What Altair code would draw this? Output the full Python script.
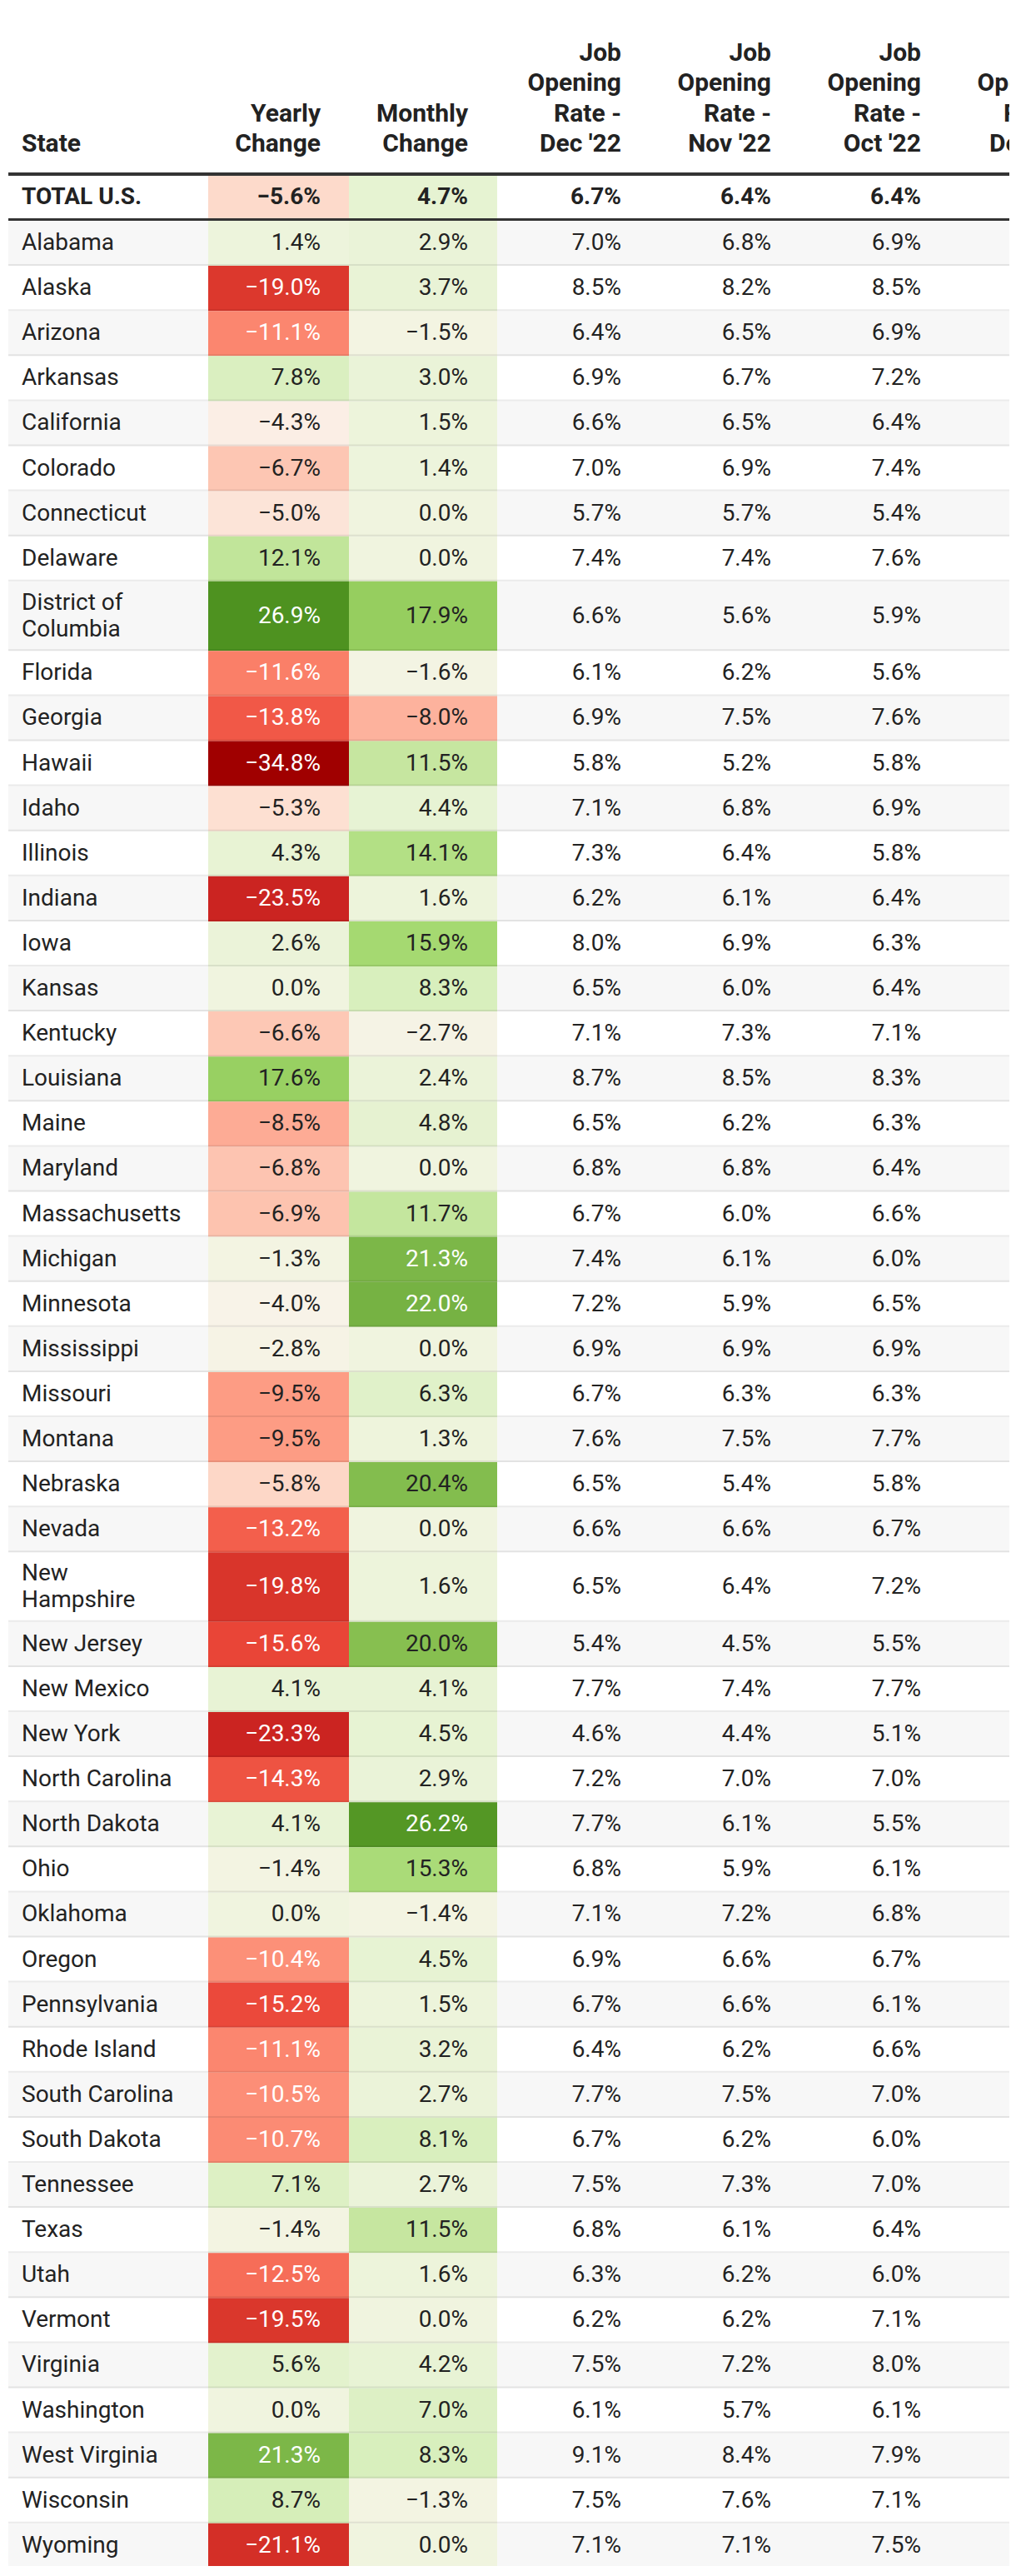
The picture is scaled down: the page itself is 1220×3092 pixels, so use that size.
import altair as alt
import pandas as pd

# ---------------- data ----------------
states = [
    "Alabama", "Alaska", "Arizona", "Arkansas", "California", "Colorado",
    "Connecticut", "Delaware", "District of Columbia", "Florida", "Georgia",
    "Hawaii", "Idaho", "Illinois", "Indiana", "Iowa", "Kansas", "Kentucky",
    "Louisiana", "Maine", "Maryland", "Massachusetts", "Michigan", "Minnesota",
    "Mississippi", "Missouri", "Montana", "Nebraska", "Nevada", "New Hampshire",
    "New Jersey", "New Mexico", "New York", "North Carolina", "North Dakota",
    "Ohio", "Oklahoma", "Oregon", "Pennsylvania", "Rhode Island",
    "South Carolina", "South Dakota", "Tennessee", "Texas", "Utah", "Vermont",
    "Virginia", "Washington", "West Virginia", "Wisconsin", "Wyoming",
]
yearly_change = [
    1.4, -19.0, -11.1, 7.8, -4.3, -6.7, -5.0, 12.1, 26.9, -11.6, -13.8,
    -34.8, -5.3, 4.3, -23.5, 2.6, 0.0, -6.6, 17.6, -8.5, -6.8, -6.9, -1.3,
    -4.0, -2.8, -9.5, -9.5, -5.8, -13.2, -19.8, -15.6, 4.1, -23.3, -14.3,
    4.1, -1.4, 0.0, -10.4, -15.2, -11.1, -10.5, -10.7, 7.1, -1.4, -12.5,
    -19.5, 5.6, 0.0, 21.3, 8.7, -21.1,
]
monthly_change = [
    2.9, 3.7, -1.5, 3.0, 1.5, 1.4, 0.0, 0.0, 17.9, -1.6, -8.0, 11.5, 4.4,
    14.1, 1.6, 15.9, 8.3, -2.7, 2.4, 4.8, 0.0, 11.7, 21.3, 22.0, 0.0, 6.3,
    1.3, 20.4, 0.0, 1.6, 20.0, 4.1, 4.5, 2.9, 26.2, 15.3, -1.4, 4.5, 1.5,
    3.2, 2.7, 8.1, 2.7, 11.5, 1.6, 0.0, 4.2, 7.0, 8.3, -1.3, 0.0,
]
rate_dec22 = [
    7.0, 8.5, 6.4, 6.9, 6.6, 7.0, 5.7, 7.4, 6.6, 6.1, 6.9, 5.8, 7.1, 7.3,
    6.2, 8.0, 6.5, 7.1, 8.7, 6.5, 6.8, 6.7, 7.4, 7.2, 6.9, 6.7, 7.6, 6.5,
    6.6, 6.5, 5.4, 7.7, 4.6, 7.2, 7.7, 6.8, 7.1, 6.9, 6.7, 6.4, 7.7, 6.7,
    7.5, 6.8, 6.3, 6.2, 7.5, 6.1, 9.1, 7.5, 7.1,
]
rate_nov22 = [
    6.8, 8.2, 6.5, 6.7, 6.5, 6.9, 5.7, 7.4, 5.6, 6.2, 7.5, 5.2, 6.8, 6.4,
    6.1, 6.9, 6.0, 7.3, 8.5, 6.2, 6.8, 6.0, 6.1, 5.9, 6.9, 6.3, 7.5, 5.4,
    6.6, 6.4, 4.5, 7.4, 4.4, 7.0, 6.1, 5.9, 7.2, 6.6, 6.6, 6.2, 7.5, 6.2,
    7.3, 6.1, 6.2, 6.2, 7.2, 5.7, 8.4, 7.6, 7.1,
]
rate_oct22 = [
    6.9, 8.5, 6.9, 7.2, 6.4, 7.4, 5.4, 7.6, 5.9, 5.6, 7.6, 5.8, 6.9, 5.8,
    6.4, 6.3, 6.4, 7.1, 8.3, 6.3, 6.4, 6.6, 6.0, 6.5, 6.9, 6.3, 7.7, 5.8,
    6.7, 7.2, 5.5, 7.7, 5.1, 7.0, 5.5, 6.1, 6.8, 6.7, 6.1, 6.6, 7.0, 6.0,
    7.0, 6.4, 6.0, 7.1, 8.0, 6.1, 7.9, 7.1, 7.5,
]
# last column is cut off at the right edge of the picture: estimated values
rate_dec21 = [
    6.9, 10.5, 7.2, 6.4, 6.9, 7.5, 6.0, 6.6, 5.2, 6.9, 8.0, 8.9, 7.5, 7.0,
    8.1, 7.8, 6.5, 7.6, 7.4, 7.1, 7.3, 7.2, 7.5, 7.5, 7.1, 7.4, 8.4, 6.9,
    7.6, 8.1, 6.4, 7.4, 6.0, 8.4, 7.4, 6.9, 7.1, 7.7, 7.9, 7.2, 8.6, 7.5,
    7.0, 6.9, 7.2, 7.7, 7.1, 6.1, 7.5, 6.9, 9.0,
]
total_label = "TOTAL U.S."
total_values = [-5.6, 4.7, 6.7, 6.4, 6.4, 7.1]
headers = [
    "State", "Yearly\nChange", "Monthly\nChange",
    "Job\nOpening\nRate -\nDec '22", "Job\nOpening\nRate -\nNov '22",
    "Job\nOpening\nRate -\nOct '22", "Job\nOpening\nRate -\nDec '21",
]
wrapped_names = {
    "District of Columbia": "District of\nColumbia",
    "New Hampshire": "New\nHampshire",
}

# colour scale for change columns
color_stops = [-34.8, -23.4, -19.4, -15.6, -13.2, -11.6, -9.5, -6.8, -5.3,
               -4.3, -4.0, 0.0, 4.2, 8.3, 11.6, 14.1, 15.9, 17.8, 20.2, 21.6, 26.9]
color_range = ["#a00000", "#cb2421", "#da372c", "#e94537", "#f35f4c",
               "#fa7f68", "#fd9c84", "#fdc4b1", "#fde0d2", "#fbeee5",
               "#f8f3e8", "#f0f4df", "#e8f3d5", "#d8efbd", "#c5e69f",
               "#b3e085", "#a5d971", "#97cf60", "#85be4f", "#79b546", "#4e9220"]

# ---------------- layout (page pixels) ----------------
MARGIN = 8
W = 1220 - 2 * MARGIN
H = 3072
TABLE_L, TABLE_R = 10, 1240
NAME_X = 26
COL_RIGHT = [385, 562, 746, 926, 1106, 1286]
CHANGE_CELLS = [(250, 419), (419, 597)]
HEADER_BASE = 182
HEADER_LH = 36.3
HEAD_RULE = (207, 211)
TOTAL_ROW = (211, 262)
TOTAL_RULE = (262, 265)
ROW_TOP = 265
ROW_H1, ROW_H2 = 54.1, 83.5
NAME_LH = 32
FONT = "Roboto"
FS = 28
HFS = 30
DARK = "#222222"


def fmt(v):
    s = f"{abs(v):.1f}%"
    return ("\u2212" + s) if v < 0 else s


def text_fill(v):
    return "#ffffff" if (v <= -10 or v >= 21) else DARK


# build rows
rows = []
y = ROW_TOP
for i, st in enumerate(states):
    label = wrapped_names.get(st, st)
    n_lines = label.count("\n") + 1
    h = ROW_H2 if n_lines > 1 else ROW_H1
    rows.append(dict(i=i, label=label, n=n_lines, y0=y, y1=y + h, ym=y + h / 2,
                     vals=[yearly_change[i], monthly_change[i], rate_dec22[i],
                           rate_nov22[i], rate_oct22[i], rate_dec21[i]]))
    y += h

stripe_df = pd.DataFrame([dict(x0=TABLE_L, x1=TABLE_R, y0=r["y0"], y1=r["y1"])
                          for r in rows if r["i"] % 2 == 0])
sep_df = pd.DataFrame([dict(x0=TABLE_L, x1=TABLE_R, y0=r["y1"] - 2, y1=r["y1"])
                       for r in rows[:-1]])
rule_df = pd.DataFrame([dict(x0=TABLE_L, x1=TABLE_R, y0=HEAD_RULE[0], y1=HEAD_RULE[1]),
                        dict(x0=TABLE_L, x1=TABLE_R, y0=TOTAL_RULE[0], y1=TOTAL_RULE[1])])

cell_recs = []
for k in range(2):
    x0, x1 = CHANGE_CELLS[k]
    cell_recs.append(dict(x0=x0, x1=x1, y0=TOTAL_ROW[0], y1=TOTAL_ROW[1], v=total_values[k]))
    for r in rows:
        cell_recs.append(dict(x0=x0, x1=x1, y0=r["y0"], y1=r["y1"], v=r["vals"][k]))
cell_df = pd.DataFrame(cell_recs)

name_df = pd.DataFrame([dict(x=NAME_X, y=r["ym"] - (r["n"] - 1) * NAME_LH / 2, t=r["label"])
                        for r in rows])
num_recs = []
for r in rows:
    for k in range(6):
        v = r["vals"][k]
        num_recs.append(dict(x=COL_RIGHT[k], y=r["ym"], t=fmt(v),
                             fill=text_fill(v) if k < 2 else DARK))
num_df = pd.DataFrame(num_recs)
total_mid = (TOTAL_ROW[0] + TOTAL_ROW[1]) / 2
total_name_df = pd.DataFrame([dict(x=NAME_X, y=total_mid, t=total_label)])
total_num_df = pd.DataFrame([dict(x=COL_RIGHT[k], y=total_mid,
                                  t=fmt(total_values[k]),
                                  fill=text_fill(total_values[k]) if k < 2 else DARK)
                             for k in range(6)])
head_recs = []
for k, hd in enumerate(headers):
    n = hd.count("\n")
    head_recs.append(dict(x=NAME_X if k == 0 else COL_RIGHT[k - 1],
                          y=HEADER_BASE - n * HEADER_LH, t=hd))
head_left_df = pd.DataFrame(head_recs[:1])
head_right_df = pd.DataFrame(head_recs[1:])

# ---------------- chart ----------------
xs = alt.Scale(domain=[MARGIN, MARGIN + W], nice=False, zero=False)
ys = alt.Scale(domain=[MARGIN, MARGIN + H], nice=False, zero=False, reverse=True)


def rects(df, **enc):
    return alt.Chart(df).mark_rect(clip=True).encode(
        x=alt.X("x0:Q", scale=xs, axis=None),
        x2="x1:Q",
        y=alt.Y("y0:Q", scale=ys, axis=None),
        y2="y1:Q",
        **enc,
    )


def texts(df, align, weight, size, baseline="middle", lh=NAME_LH, fill=None):
    enc = dict(
        x=alt.X("x:Q", scale=xs, axis=None),
        y=alt.Y("y:Q", scale=ys, axis=None),
        text="t:N",
    )
    if fill is None:
        enc["fill"] = alt.Fill("fill:N", scale=None)
    extra = {"fill": fill} if fill else {}
    return alt.Chart(df).mark_text(
        clip=True, align=align, baseline=baseline, font=FONT, fontSize=size,
        fontWeight=weight, lineBreak="\n", lineHeight=lh, **extra,
    ).encode(**enc)


stripes = rects(stripe_df, color=alt.value("#f7f7f7"))
cells = rects(cell_df, color=alt.Color("v:Q", scale=alt.Scale(domain=color_stops, range=color_range,
                                                               interpolate="rgb"), legend=None))
seps = rects(sep_df, color=alt.value("#000000"), opacity=alt.value(0.08))
rules = rects(rule_df, color=alt.value("#333333"))

chart = alt.layer(
    stripes,
    cells,
    seps,
    rules,
    texts(name_df, "left", 400, FS, fill=DARK),
    texts(num_df, "right", 400, FS),
    texts(total_name_df, "left", 700, FS, fill=DARK),
    texts(total_num_df, "right", 700, FS),
    texts(head_left_df, "left", 700, HFS, baseline="alphabetic", lh=HEADER_LH, fill=DARK),
    texts(head_right_df, "right", 700, HFS, baseline="alphabetic", lh=HEADER_LH, fill=DARK),
).properties(
    width=W, height=H, padding=0, autosize=alt.AutoSizeParams(type="none"),
    background="#ffffff",
).configure_view(stroke=None)

chart.save("out.html", embed_options={"renderer": "svg", "actions": False})
